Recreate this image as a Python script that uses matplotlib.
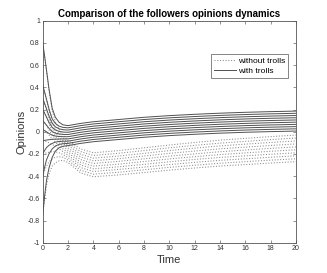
import numpy as np
import matplotlib.pyplot as plt

plt.rcParams['font.family'] = ['Liberation Sans', 'DejaVu Sans']

# time samples
t = [0, 0.15, 0.3, 0.5, 0.75, 1.0, 1.3, 1.6, 2, 3, 4, 6, 8, 10, 12, 14, 16, 18, 20]

# followers opinions with trolls (solid)
with_trolls = [
    [0.80, 0.681, 0.554, 0.383, 0.211, 0.130, 0.085, 0.062, 0.055, 0.075, 0.090, 0.110, 0.130, 0.145, 0.157, 0.167, 0.175, 0.181, 0.186],
    [0.42, 0.358, 0.293, 0.204, 0.116, 0.074, 0.050, 0.039, 0.035, 0.055, 0.070, 0.090, 0.110, 0.125, 0.137, 0.147, 0.155, 0.161, 0.166],
    [0.30, 0.254, 0.206, 0.140, 0.075, 0.044, 0.026, 0.018, 0.015, 0.035, 0.050, 0.070, 0.090, 0.105, 0.117, 0.127, 0.135, 0.141, 0.146],
    [0.20, 0.167, 0.132, 0.085, 0.038, 0.016, 0.003, -0.003, -0.005, 0.015, 0.030, 0.050, 0.070, 0.085, 0.097, 0.107, 0.115, 0.121, 0.126],
    [0.10, 0.080, 0.059, 0.030, 0.001, -0.013, -0.020, -0.024, -0.025, -0.005, 0.010, 0.030, 0.050, 0.065, 0.077, 0.087, 0.095, 0.101, 0.106],
    [0.02, 0.010, -0.001, -0.016, -0.031, -0.039, -0.043, -0.045, -0.045, -0.025, -0.010, 0.010, 0.030, 0.045, 0.057, 0.067, 0.075, 0.081, 0.086],
    [-0.08, -0.078, -0.075, -0.072, -0.068, -0.067, -0.066, -0.065, -0.065, -0.045, -0.030, -0.010, 0.010, 0.025, 0.037, 0.047, 0.055, 0.061, 0.066],
    [-0.20, -0.169, -0.143, -0.122, -0.105, -0.094, -0.088, -0.086, -0.085, -0.065, -0.050, -0.030, -0.010, 0.005, 0.017, 0.027, 0.035, 0.041, 0.046],
    [-0.40, -0.320, -0.253, -0.199, -0.155, -0.129, -0.114, -0.108, -0.105, -0.085, -0.070, -0.050, -0.030, -0.015, -0.003, 0.007, 0.015, 0.021, 0.026],
    [-0.75, -0.581, -0.438, -0.325, -0.231, -0.175, -0.144, -0.131, -0.125, -0.105, -0.090, -0.070, -0.050, -0.035, -0.023, -0.013, -0.005, 0.001, 0.006],
]

# followers opinions without trolls (dotted)
without_trolls = [
    [0.80, 0.68, 0.55, 0.37, 0.19, 0.09, 0.02, -0.03, -0.08, -0.155, -0.19, -0.170, -0.145, -0.120, -0.097, -0.076, -0.060, -0.044, -0.030],
    [0.42, 0.355, 0.285, 0.19, 0.09, 0.025, -0.02, -0.055, -0.102, -0.179, -0.214, -0.194, -0.170, -0.145, -0.123, -0.103, -0.087, -0.071, -0.057],
    [0.30, 0.25, 0.195, 0.125, 0.045, -0.01, -0.05, -0.08, -0.124, -0.203, -0.238, -0.219, -0.195, -0.170, -0.148, -0.128, -0.112, -0.097, -0.083],
    [0.20, 0.165, 0.125, 0.07, 0.005, -0.04, -0.075, -0.105, -0.146, -0.227, -0.262, -0.243, -0.219, -0.195, -0.174, -0.154, -0.139, -0.124, -0.110],
    [0.10, 0.08, 0.055, 0.015, -0.03, -0.065, -0.10, -0.13, -0.168, -0.251, -0.286, -0.267, -0.244, -0.220, -0.200, -0.180, -0.165, -0.150, -0.137],
    [0.02, 0.01, -0.005, -0.03, -0.065, -0.095, -0.125, -0.155, -0.19, -0.275, -0.310, -0.292, -0.269, -0.245, -0.225, -0.206, -0.191, -0.176, -0.163],
    [-0.08, -0.085, -0.09, -0.10, -0.115, -0.13, -0.155, -0.18, -0.212, -0.299, -0.334, -0.316, -0.294, -0.271, -0.250, -0.232, -0.217, -0.203, -0.190],
    [-0.20, -0.195, -0.19, -0.185, -0.18, -0.18, -0.19, -0.205, -0.234, -0.323, -0.358, -0.340, -0.319, -0.296, -0.276, -0.258, -0.244, -0.230, -0.217],
    [-0.40, -0.35, -0.31, -0.27, -0.245, -0.23, -0.225, -0.23, -0.256, -0.347, -0.382, -0.365, -0.343, -0.321, -0.302, -0.284, -0.270, -0.256, -0.244],
    [-0.75, -0.61, -0.48, -0.38, -0.31, -0.28, -0.262, -0.258, -0.278, -0.371, -0.406, -0.389, -0.368, -0.346, -0.327, -0.309, -0.296, -0.282, -0.270],
]

fig = plt.figure(figsize=(3.27, 2.73), dpi=100)
ax = fig.add_axes([0.1306, 0.111, 0.7744, 0.813])

for i, y in enumerate(without_trolls):
    ax.plot(t, y, ':', color='#8a8a8a', lw=0.75, label='without trolls' if i == 0 else None)
for i, y in enumerate(with_trolls):
    ax.plot(t, y, '-', color='#505050', lw=0.7, label='with trolls' if i == 0 else None)

ax.set_xlim(0, 20)
ax.set_ylim(-1, 1)
ax.set_xticks(np.arange(0, 21, 2))
ax.set_yticks(np.round(np.arange(-1, 1.01, 0.2), 1))
ax.set_yticklabels(['-1', '-0.8', '-0.6', '-0.4', '-0.2', '0', '0.2', '0.4', '0.6', '0.8', '1'])
ax.tick_params(direction='in', length=2.5, width=0.5, labelsize=5, pad=2,
               top=True, right=True, colors='#666666', labelcolor='#333333')
for s in ax.spines.values():
    s.set_linewidth(0.6)
    s.set_color('#555555')

ax.set_title('Comparison of the followers opinions dynamics', fontsize=7,
             fontweight='bold', pad=3)
ax.set_xlabel('Time', fontsize=8, labelpad=2, color='#333333')
ax.set_ylabel('Opinions', fontsize=8, labelpad=0.5, color='#333333')

leg = ax.legend(loc='upper right', bbox_to_anchor=(0.97, 0.85), fontsize=6,
                fancybox=False, framealpha=1, edgecolor='#555555',
                handlelength=2.6, handletextpad=0.3, borderpad=0.35,
                labelspacing=0.3, borderaxespad=0)
leg.get_frame().set_linewidth(0.5)

fig.savefig('out.png', dpi=100)
